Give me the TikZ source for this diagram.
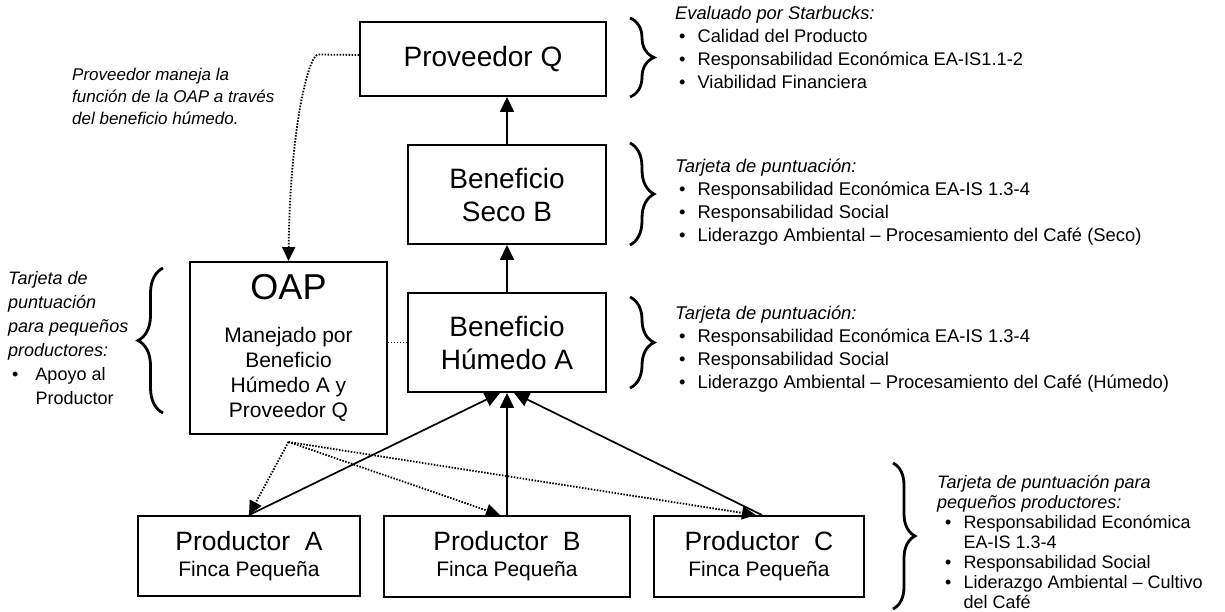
\documentclass[tikz,border=0pt]{standalone}
\usepackage{fontspec}
\setmainfont{Liberation Sans}
\usetikzlibrary{arrows.meta,decorations.pathreplacing,calc}
\begin{document}
\begin{tikzpicture}[x=1pt,y=-1pt,
  box/.style={draw, line width=1.9pt, inner sep=0pt, align=center},
  big/.style={font=\fontsize{28}{33}\selectfont},
  arr/.style={line width=1.7pt, -{Triangle[length=15pt,width=14pt]}},
  dotl/.style={line width=1.8pt, dash pattern=on 1.5pt off 1.5pt},
  dotarr/.style={dotl, -{Triangle[length=14pt,width=13pt]}},
  brc/.style={decorate, decoration={brace, amplitude=#1}, line width=2.8pt},
  note/.style={inner sep=0pt, anchor=north west, align=left},
]
\useasboundingbox (0,0) rectangle (1225,611);

% boxes
\node[box, big, minimum width=246pt, minimum height=74pt] (pq) at (483,59) {Proveedor Q};
\node[box, big, minimum width=198pt, minimum height=99pt] (sb) at (507,194.5) {Beneficio\\Seco B};
\node[box, big, minimum width=198pt, minimum height=99pt] (hum) at (507,342.5) {Beneficio\\H\'umedo A};
\node[box, minimum width=197pt, minimum height=172pt, font=\fontsize{21}{25}\selectfont] (oap) at (288.5,348)
  {{\fontsize{36}{40}\selectfont OAP}\\[18pt]Manejado por\\Beneficio\\Húmedo A y\\Proveedor Q};
\node[box, minimum width=222pt, minimum height=80pt, font=\fontsize{21}{26}\selectfont] (pa) at (249,556)
  {{\fontsize{26.5}{30}\selectfont Productor\ \ A}\\Finca Pequeña};
\node[box, minimum width=246pt, minimum height=81pt, font=\fontsize{21}{26}\selectfont] (pb) at (507,556.5)
  {{\fontsize{26.5}{30}\selectfont Productor\ \ B}\\Finca Pequeña};
\node[box, minimum width=210pt, minimum height=81pt, font=\fontsize{21}{26}\selectfont] (pc) at (759,556.5)
  {{\fontsize{26.5}{30}\selectfont Productor\ \ C}\\Finca Pequeña};

% solid arrows
\draw[arr] (hum.north) -- (sb.south);
\draw[arr] (sb.north) -- (sb.north |- pq.south);
\draw[arr] (pa.north) -- ([xshift=-7pt]hum.south);
\draw[arr] (pb.north) -- (hum.south);
\draw[arr] ([xshift=3pt]pc.north) -- ([xshift=7pt]hum.south);

% dotted connectors
\coordinate (o1) at ([yshift=-7pt]oap.south);
\draw[dotarr] (o1) -- (pa.north);
\draw[dotarr] (o1) -- ([xshift=-7pt]pb.north);
\draw[dotarr] (o1) -- ([xshift=-3pt]pc.north);
\draw[dotl] (oap.east |- hum.west) -- (hum.west);
\coordinate (qb) at (318,54.5);
\draw[dotarr] ([yshift=4pt]pq.west) -- (qb) .. controls (308,56) and (290,130) .. (oap.north);

% braces
\draw[brc=24pt] (630,18) -- (630,97);
\draw[brc=24pt] (630,143) -- (630,245);
\draw[brc=24pt] (630,297) -- (630,388);
\draw[brc=22pt] (893,463) -- (893,609);
\draw[brc=25pt] (163,413) -- (163,268);

% texts
\node[note, font=\fontsize{17}{22}\selectfont\itshape] (note) at (72,68)
  {Proveedor maneja la\\función de la OAP a través\\del beneficio húmedo.};

\node[note, font=\fontsize{18.3}{23}\selectfont] (t1) at (675,3) {\begin{tabular}{@{\hspace{4pt}}l@{\hspace{12pt}}l@{}}
\multicolumn{2}{@{}l@{}}{\itshape Evaluado por Starbucks:}\\
\textbullet & Calidad del Producto\\
\textbullet & Responsabilidad Económica EA-IS1.1-2\\
\textbullet & Viabilidad Financiera
\end{tabular}};

\node[note, font=\fontsize{18.4}{23}\selectfont] (t2) at (675,156) {\begin{tabular}{@{\hspace{4pt}}l@{\hspace{12pt}}l@{}}
\multicolumn{2}{@{}l@{}}{\itshape Tarjeta de puntuación:}\\
\textbullet & Responsabilidad Económica EA-IS 1.3-4\\
\textbullet & Responsabilidad Social\\
\textbullet & Liderazgo Ambiental – Procesamiento del Café (Seco)
\end{tabular}};

\node[note, font=\fontsize{18.4}{23}\selectfont] (t3) at (675,303) {\begin{tabular}{@{\hspace{4pt}}l@{\hspace{12pt}}l@{}}
\multicolumn{2}{@{}l@{}}{\itshape Tarjeta de puntuación:}\\
\textbullet & Responsabilidad Económica EA-IS 1.3-4\\
\textbullet & Responsabilidad Social\\
\textbullet & Liderazgo Ambiental – Procesamiento del Café (Húmedo)
\end{tabular}};

\node[note, font=\fontsize{18}{20}\selectfont] (t4) at (937,474) {\begin{tabular}{@{\hspace{8pt}}l@{\hspace{12pt}}l@{}}
\multicolumn{2}{@{}l@{}}{\itshape Tarjeta de puntuación para}\\
\multicolumn{2}{@{}l@{}}{\itshape pequeños productores:}\\
\textbullet & Responsabilidad Económica\\
 & EA-IS 1.3-4\\
\textbullet & Responsabilidad Social\\
\textbullet & Liderazgo Ambiental – Cultivo\\
 & del Café
\end{tabular}};

\node[note, font=\fontsize{18}{24}\selectfont] (tl) at (8,267) {\begin{tabular}{@{\hspace{4pt}}l@{\hspace{17pt}}l@{}}
\multicolumn{2}{@{}l@{}}{\itshape Tarjeta de}\\
\multicolumn{2}{@{}l@{}}{\itshape puntuación}\\
\multicolumn{2}{@{}l@{}}{\itshape para pequeños}\\
\multicolumn{2}{@{}l@{}}{\itshape productores:}\\
\textbullet & Apoyo al\\
 & Productor
\end{tabular}};
\end{tikzpicture}
\end{document}
